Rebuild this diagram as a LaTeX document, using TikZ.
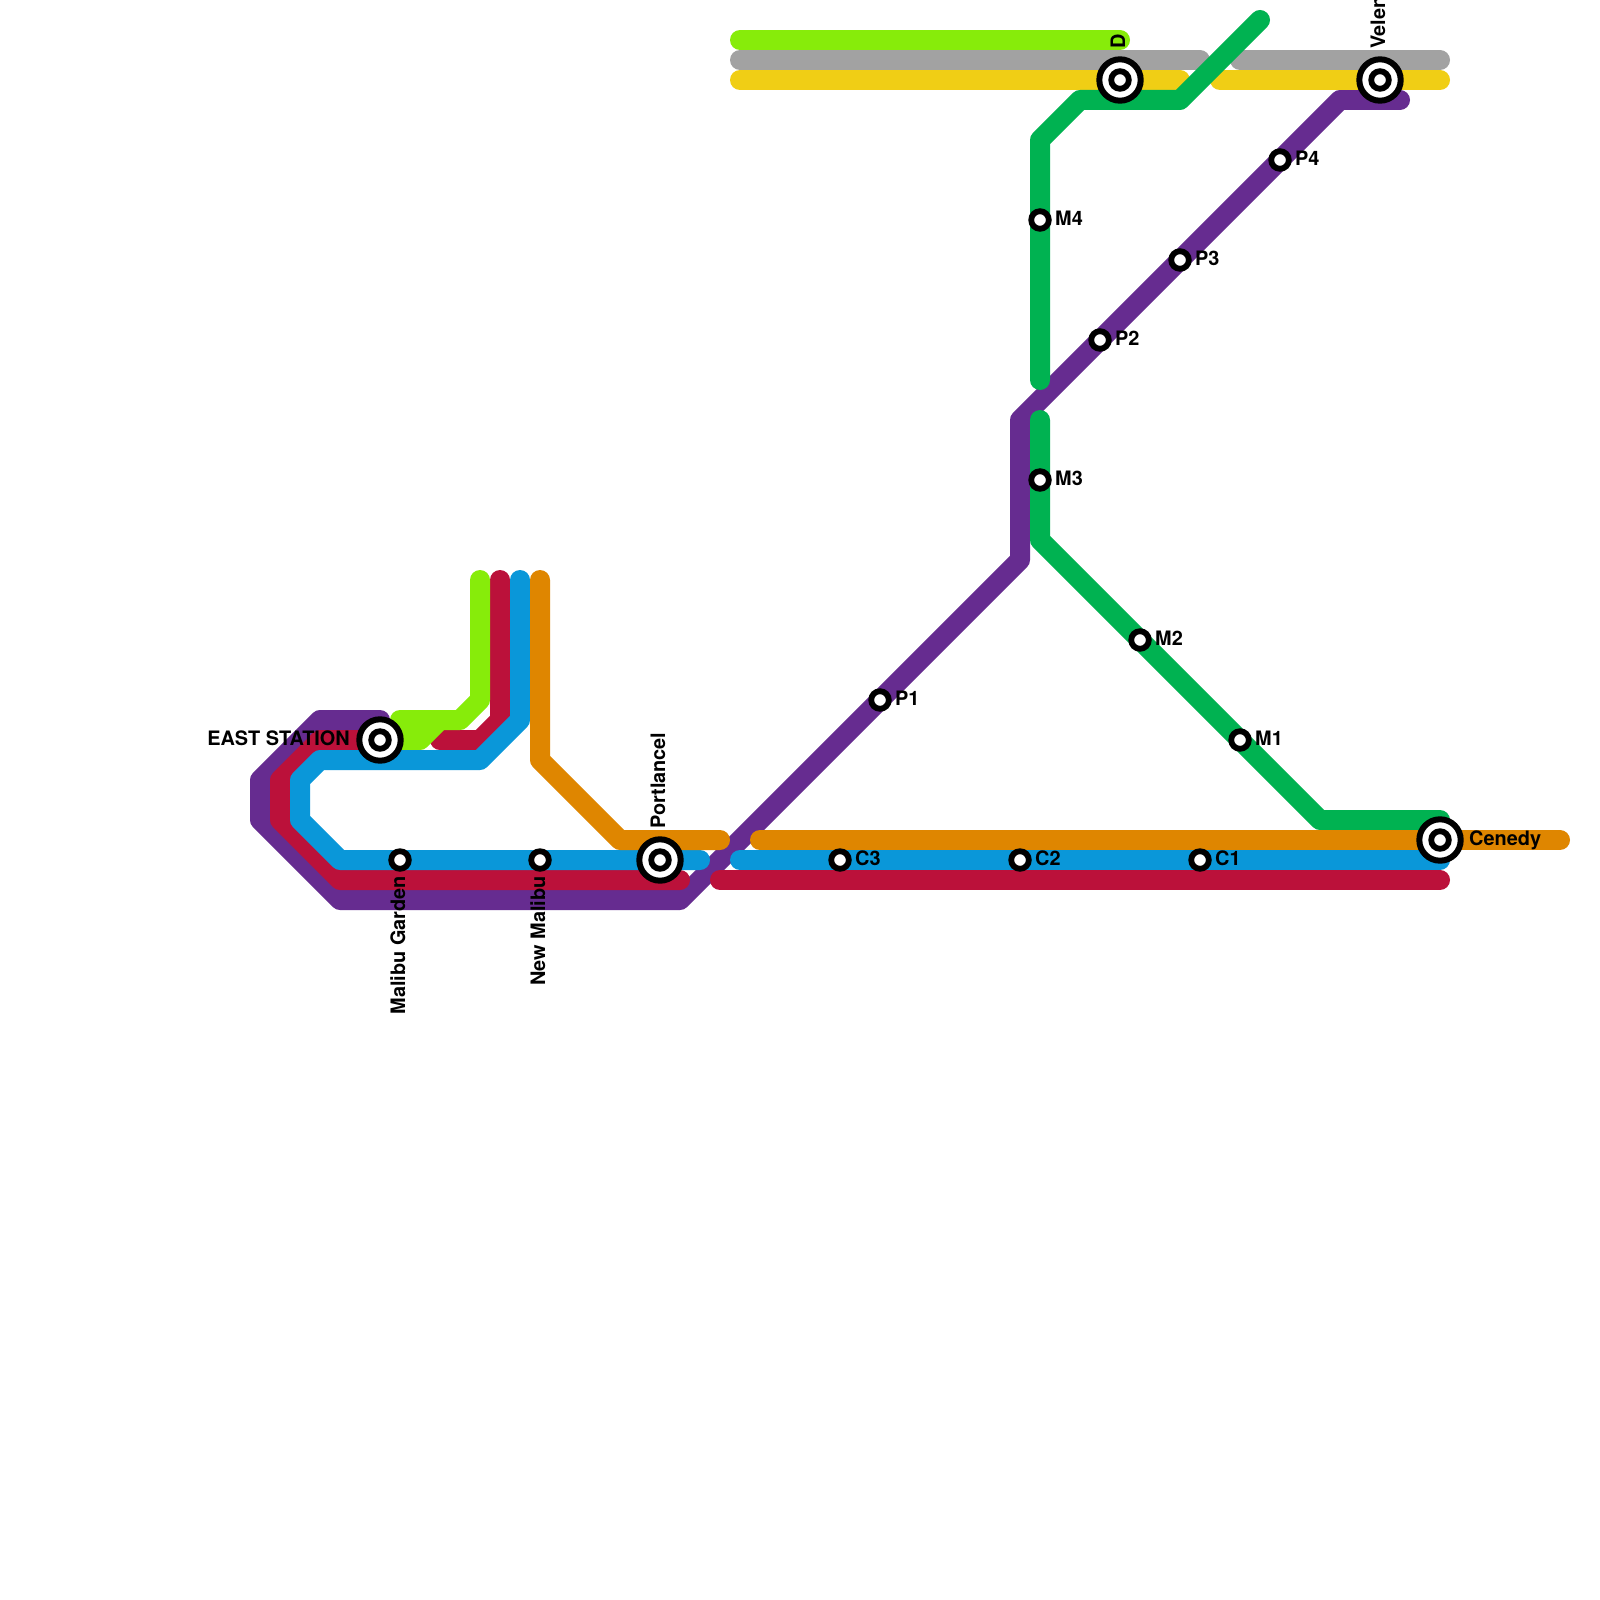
\documentclass[tikz,border=0pt]{standalone}
\usepackage{fontspec}
\setmainfont{TeX Gyre Heros}
\definecolor{clime}{HTML}{87EC0A}
\definecolor{cred}{HTML}{BB113A}
\definecolor{cblue}{HTML}{0A97D9}
\definecolor{corange}{HTML}{DF8600}
\definecolor{cpurple}{HTML}{662C90}
\definecolor{cgreen}{HTML}{00B251}
\definecolor{cgray}{HTML}{A2A2A2}
\definecolor{cyellow}{HTML}{F0CE15}
\tikzset{
  metro/.style={line width=20pt,line cap=round,line join=round},
  smallstn/.style={circle,draw=black,fill=white,line width=5.8pt,minimum size=17.6pt,inner sep=0pt},
  bigstn/.style={circle,draw=black,fill=white,line width=6pt,minimum size=41.4pt,inner sep=0pt,
    path picture={\draw[black,line width=5.8pt] (path picture bounding box.center) circle (8.8pt);}},
  lab/.style={font=\bfseries\fontsize{19.9pt}{19.9pt}\selectfont,text=black,inner sep=0pt},
  labr/.style={lab,anchor=base west},
  labl/.style={lab,anchor=base east},
  labu/.style={lab,rotate=90,anchor=base west},
  labd/.style={lab,rotate=90,anchor=base east}
}
\begin{document}
\begin{tikzpicture}[x=1pt,y=-1pt]
\useasboundingbox (0,0) rectangle (1600,1600);
\fill[white] (0,0) rectangle (1600,1600);
% purple
\draw[metro,cpurple] (380,720) -- (320,720) -- (260,780) -- (260,820) -- (340,900) -- (680,900) -- (1020,560) -- (1020,420) -- (1340,100) -- (1400,100);
% gray
\draw[metro,cgray] (740,60) -- (1200,60);
\draw[metro,cgray] (1240,60) -- (1440,60);
% yellow
\draw[metro,cyellow] (740,80) -- (1180,80);
\draw[metro,cyellow] (1220,80) -- (1440,80);
% red
\draw[metro,cred] (500,580) -- (500,720) -- (480,740) -- (440,740);
\draw[metro,cred] (380,740) -- (320,740) -- (280,780) -- (280,820) -- (340,880) -- (680,880);
\draw[metro,cred] (720,880) -- (1440,880);
% lime
\draw[metro,clime] (480,580) -- (480,700) -- (460,720) -- (400,720) -- (400,740) -- (420,740) -- (440,720);
\draw[metro,clime] (740,40) -- (1120,40);
% green
\draw[metro,cgreen] (1040,420) -- (1040,540) -- (1320,820) -- (1440,820);
% blue
\draw[metro,cblue] (520,580) -- (520,720) -- (480,760) -- (320,760) -- (300,780) -- (300,820) -- (340,860) -- (700,860);
\draw[metro,cblue] (740,860) -- (1440,860);
% orange
\draw[metro,corange] (540,580) -- (540,760) -- (620,840) -- (720,840);
\draw[metro,corange] (760,840) -- (1560,840);
% green top
\draw[metro,cgreen] (1260,20) -- (1180,100) -- (1080,100) -- (1040,140) -- (1040,380);
% stations
\node[bigstn] (east) at (380,740) {};
\node[bigstn] (port) at (660,860) {};
\node[bigstn] (dst) at (1120,80) {};
\node[bigstn] (velen) at (1380,80) {};
\node[bigstn] (cenedy) at (1440,840) {};
\node[smallstn] (garden) at (400,860) {};
\node[smallstn] (malibu) at (540,860) {};
\node[smallstn] (c3) at (840,860) {};
\node[smallstn] (c2) at (1020,860) {};
\node[smallstn] (c1) at (1200,860) {};
\node[smallstn] (p1) at (880,700) {};
\node[smallstn] (p2) at (1100,340) {};
\node[smallstn] (p3) at (1180,260) {};
\node[smallstn] (p4) at (1280,160) {};
\node[smallstn] (m4) at (1040,220) {};
\node[smallstn] (m3) at (1040,480) {};
\node[smallstn] (m2) at (1140,640) {};
\node[smallstn] (m1) at (1240,740) {};
% labels
\node[labl] (least) at (350,745) {EAST STATION};
\node[labu] (lport) at (665,829) {Portlancel};
\node[labu] (ldst) at (1125,49) {D};
\node[labu] (lvelen) at (1385,49) {Velen};
\node[labr] (lcenedy) at (1469,845) {Cenedy};
\node[labd] (lgarden) at (405,876) {Malibu Garden};
\node[labd] (lmalibu) at (545,876) {New Malibu};
\node[labr] (lc3) at (855,865) {C3};
\node[labr] (lc2) at (1035,865) {C2};
\node[labr] (lc1) at (1215,865) {C1};
\node[labr] (lp1) at (895,705) {P1};
\node[labr] (lp2) at (1115,345) {P2};
\node[labr] (lp3) at (1195,265) {P3};
\node[labr] (lp4) at (1295,165) {P4};
\node[labr] (lm4) at (1055,225) {M4};
\node[labr] (lm3) at (1055,485) {M3};
\node[labr] (lm2) at (1155,645) {M2};
\node[labr] (lm1) at (1255,745) {M1};
\end{tikzpicture}
\end{document}
